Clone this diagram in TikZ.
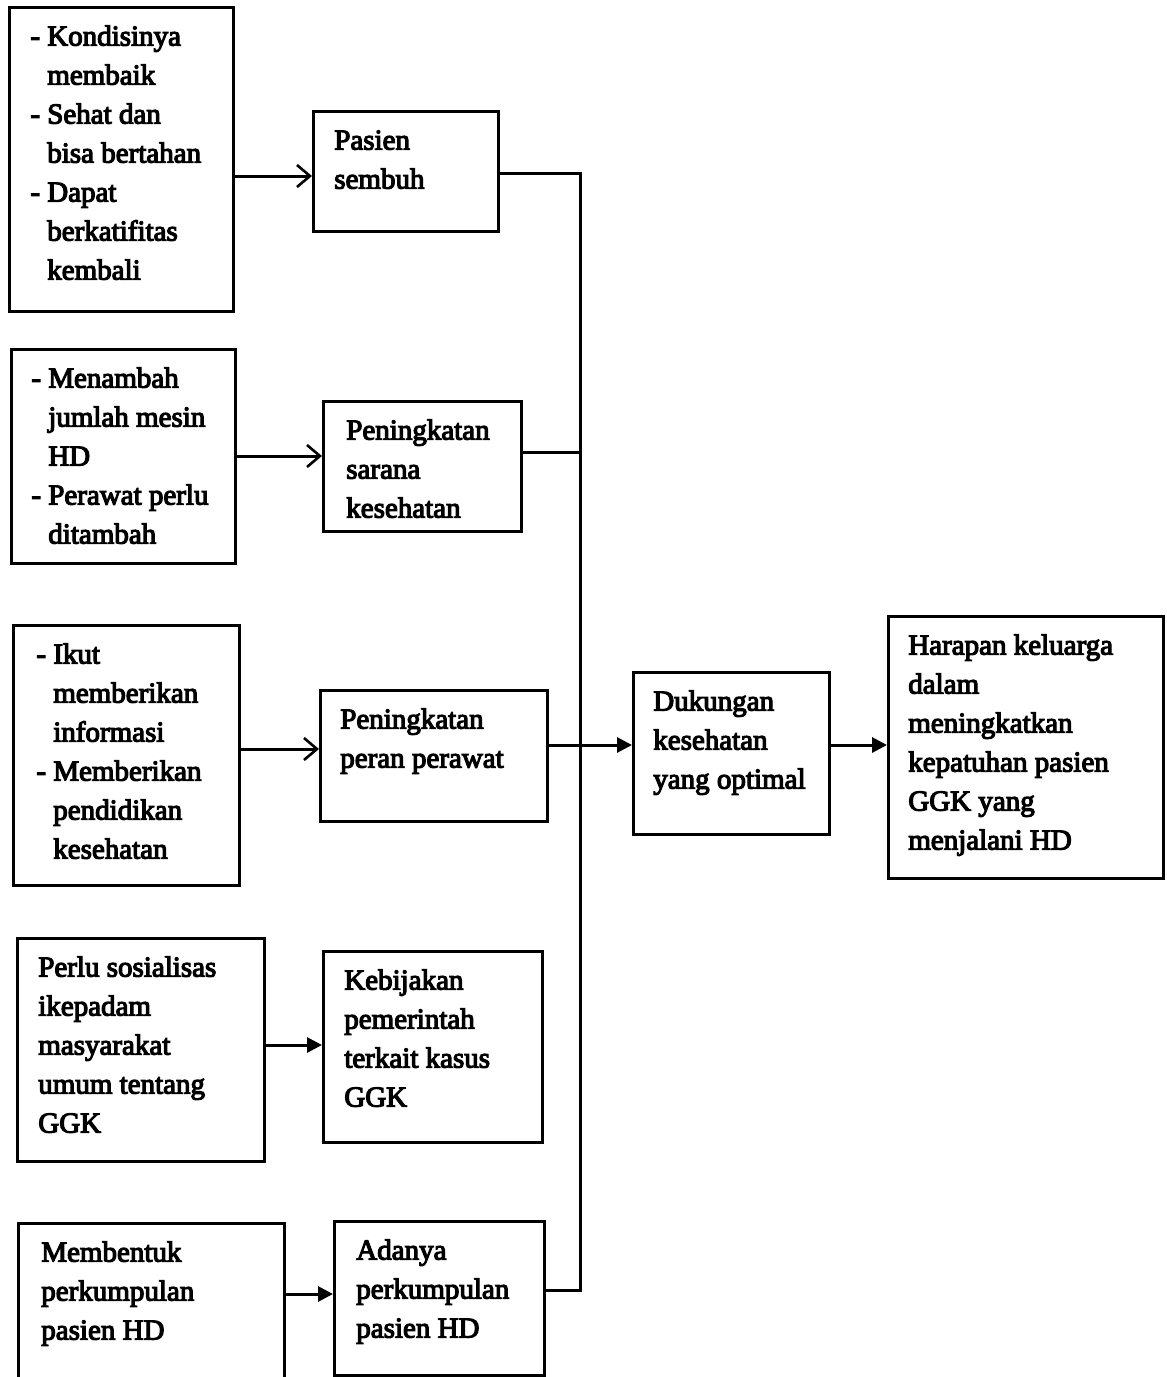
\documentclass[tikz,border=0pt]{standalone}
\usepackage{fontspec}
\newfontfamily\scanfont{Liberation Serif}[FakeBold=4]
\usetikzlibrary{arrows.meta}

% box body: width, height, left padding, lines
\newcommand{\boxtext}[4]{%
  \parbox[c][#2][t]{#1}{\parindent=0pt\leftskip=#3\relax
    \rightskip=0pt plus 1fil\parfillskip=0pt plus 1fil
    \vspace*{11pt}\leavevmode\strut #4}}
\newcommand{\dashitem}{\llap{-\ }}

\tikzset{
  box/.style={draw, line width=2.6pt, inner sep=0pt, anchor=north west,
    font=\scanfont\fontsize{29}{39}\selectfont},
  link/.style={line width=3pt},
  openarrow/.style={link, -{Straight Barb[length=13pt,width=22pt,line width=2.6pt]}},
  fillarrow/.style={link, -{Triangle[length=15pt,width=15pt]}}
}

\begin{document}
\begin{tikzpicture}[x=1pt, y=-1pt]
  \path[use as bounding box, clip] (0,0) rectangle (1167,1377);
  \fill[white] (0,0) rectangle (1167,1377);

  % causes (left column)
  \node[box] (L1) at (8,6) {\boxtext{224pt}{304pt}{38pt}{\dashitem Kondisinya\\membaik\\\dashitem Sehat dan\\bisa bertahan\\\dashitem Dapat\\berkatifitas\\kembali}};
  \node[box] (L2) at (10,348) {\boxtext{224pt}{214pt}{37pt}{\dashitem Menambah\\jumlah mesin\\HD\\\dashitem Perawat perlu\\ditambah}};
  \node[box] (L3) at (12,624) {\boxtext{226pt}{260pt}{40pt}{\dashitem Ikut\\memberikan\\informasi\\\dashitem Memberikan\\pendidikan\\kesehatan}};
  \node[box] (L4) at (16,937) {\boxtext{247pt}{223pt}{21pt}{Perlu sosialisas\\ikepadam\\masyarakat\\umum tentang\\GGK}};
  \node[box] (L5) at (17,1222) {\boxtext{266pt}{200pt}{23pt}{Membentuk\\perkumpulan\\pasien HD}};

  % outcomes (middle column)
  \node[box] (R1) at (312,110) {\boxtext{185pt}{120pt}{21pt}{Pasien\\sembuh}};
  \node[box] (R2) at (322,400) {\boxtext{198pt}{130pt}{23pt}{Peningkatan\\sarana\\kesehatan}};
  \node[box] (R3) at (319,689) {\boxtext{227pt}{131pt}{20pt}{Peningkatan\\peran perawat}};
  \node[box] (R4) at (322,950) {\boxtext{219pt}{191pt}{21pt}{Kebijakan\\pemerintah\\terkait kasus\\GGK}};
  \node[box] (R5) at (333,1220) {\boxtext{210pt}{154pt}{22pt}{Adanya\\perkumpulan\\pasien HD}};

  % result chain
  \node[box] (D) at (632,671) {\boxtext{196pt}{162pt}{20pt}{Dukungan\\kesehatan\\yang optimal}};
  \node[box] (H) at (887,615) {\boxtext{275pt}{262pt}{20pt}{Harapan keluarga\\dalam\\meningkatkan\\kepatuhan pasien\\GGK yang\\menjalani HD}};

  % connector levels
  \coordinate (a1) at (0,176);
  \coordinate (a2) at (0,456);
  \coordinate (a3) at (0,749);
  \coordinate (a4) at (0,1045);
  \coordinate (a5) at (0,1294);
  \coordinate (t1) at (580,173);
  \coordinate (t2) at (580,452);
  \coordinate (t3) at (580,745);
  \coordinate (t5) at (580,1290);

  % cause -> outcome
  \draw[openarrow] (L1.east |- a1) -- (R1.west |- a1);
  \draw[openarrow] (L2.east |- a2) -- (R2.west |- a2);
  \draw[openarrow] (L3.east |- a3) -- (R3.west |- a3);
  \draw[fillarrow] (L4.east |- a4) -- (R4.west |- a4);
  \draw[fillarrow] (L5.east |- a5) -- (R5.west |- a5);

  % collecting trunk
  \draw[link] (R1.east |- t1) -- (t1) -- (t5) -- (R5.east |- t5);
  \draw[link] (R2.east |- t2) -- (t2);
  \draw[fillarrow] (R3.east |- t3) -- (D.west |- t3);
  \draw[fillarrow] (D.east |- t3) -- (H.west |- t3);
\end{tikzpicture}
\end{document}
